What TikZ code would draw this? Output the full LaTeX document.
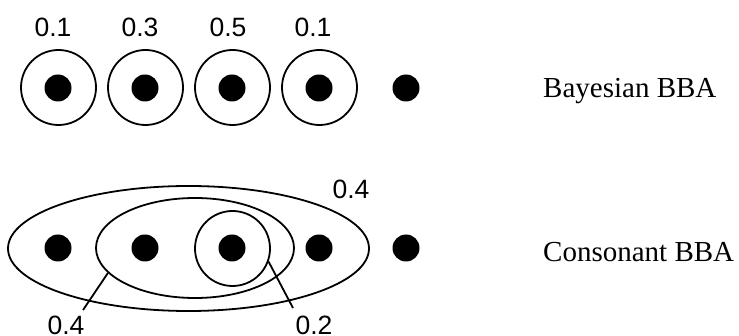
\documentclass[tikz,border=0pt]{standalone}
\usepackage{fontspec}
\setmainfont{Liberation Serif}
\newfontfamily\labfont{Liberation Sans}
\usetikzlibrary{shapes.geometric}
\begin{document}
\begin{tikzpicture}[x=1pt,y=-1pt,
  dot/.style={circle,fill=black,inner sep=0pt,minimum size=27pt},
  ring/.style={circle,draw=black,line width=1.8pt,inner sep=0pt,minimum size=75pt},
  oval/.style={ellipse,draw=black,line width=1.8pt,inner sep=0pt},
  mass/.style={font=\labfont\fontsize{26.5}{30}\selectfont,inner sep=0pt},
  title/.style={font=\fontsize{29}{33}\selectfont,inner sep=0pt,anchor=west},
  lead/.style={line width=1.8pt}]
\useasboundingbox (0,0) rectangle (739,336);
% Bayesian row
\foreach \i/\x in {1/58,2/145,3/232,4/319,5/406}{
  \node[dot] (b\i) at (\x,88) {};
}
\foreach \i/\x in {1/58.5,2/145.5,3/232.5,4/319.5}{
  \node[ring] (r\i) at (\x,87.5) {};
}
\node[mass] (m1) at (53,27) {0.1};
\node[mass] (m2) at (140,27) {0.3};
\node[mass] (m3) at (228,27) {0.5};
\node[mass] (m4) at (313,27) {0.1};
\node[title] (tb) at (543,91) {Bayesian BBA};
% Consonant row
\foreach \i/\x in {1/58,2/145,3/232,4/319,5/406}{
  \node[dot] (c\i) at (\x,248) {};
}
\node[oval,minimum width=361pt,minimum height=125pt] (outer) at (188.5,248.5) {};
\node[oval,minimum width=198pt,minimum height=100pt] (middle) at (195,248) {};
\node[ring] (inner) at (232.5,248.5) {};
\node[mass] (mo) at (351,189) {0.4};
\node[mass] (mm) at (66,325.5) {0.4};
\node[mass] (mi) at (314,325.5) {0.2};
\coordinate (em) at (83,310);
\coordinate (ei) at (293,308);
\draw[lead] (middle.196) -- (em);
\draw[lead] (inner.340) -- (ei);
\node[title] (tc) at (543,252) {Consonant BBA};
\end{tikzpicture}
\end{document}
